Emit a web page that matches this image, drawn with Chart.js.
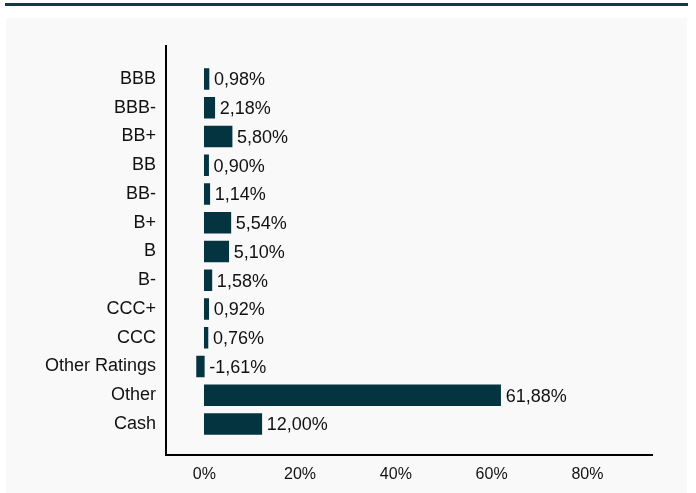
<!DOCTYPE html>
<html><head><meta charset="utf-8">
<script src="https://cdn.jsdelivr.net/npm/chart.js@4"></script>
<style>html,body{margin:0;padding:0;background:#fff}#wrap{width:696px;height:493px}</style>
</head><body><div id="wrap"><canvas id="c" width="696" height="493"></canvas></div>
<script>
const categories = ["BBB","BBB-","BB+","BB","BB-","B+","B","B-","CCC+","CCC","Other Ratings","Other","Cash"];
const values = [0.98,2.18,5.80,0.90,1.14,5.54,5.10,1.58,0.92,0.76,-1.61,61.88,12.00];
const xTicks = [0,20,40,60,80];
const BAR = "#04343f";
const FONT = "'Liberation Sans', Arial, sans-serif";

const bgPlugin = {
  id:"bg",
  beforeDraw(chart){
    const ctx = chart.ctx;
    ctx.save();
    ctx.fillStyle="#fff"; ctx.fillRect(0,0,696,493);
    ctx.fillStyle="#f9f9f9"; ctx.fillRect(6,18,681,475);
    ctx.fillStyle="#0d3c47"; ctx.fillRect(5,3,683,3);
    ctx.restore();
  },
  afterDatasetsDraw(chart){
    const ctx = chart.ctx, a = chart.chartArea, xs = chart.scales.x;
    ctx.save();
    ctx.strokeStyle="#000"; ctx.lineWidth=2;
    ctx.beginPath();
    ctx.moveTo(a.left, 45); ctx.lineTo(a.left, 456);
    ctx.moveTo(a.left-1, 455); ctx.lineTo(653, 455);
    ctx.stroke();
    const meta = chart.getDatasetMeta(0);
    ctx.font = "18px " + FONT;
    ctx.fillStyle="#111"; ctx.textBaseline="middle"; ctx.textAlign="left";
    const zero = xs.getPixelForValue(0);
    meta.data.forEach((bar,i)=>{
      const v = values[i];
      const txt = v.toFixed(2).replace(".",",")+"%";
      const x = Math.max(bar.x, zero)+5;
      ctx.fillText(txt, x, bar.y+1.5);
    });
    ctx.restore();
  }
};

new Chart(document.getElementById("c"),{
  type:"bar",
  data:{labels:categories,datasets:[{data:values,backgroundColor:BAR,barThickness:21}]},
  plugins:[bgPlugin],
  options:{
    indexAxis:"y",responsive:false,animation:false,
    layout:{padding:{top:64.6,right:43,left:0,bottom:0}},
    plugins:{legend:{display:false},tooltip:{enabled:false}},
    scales:{
      x:{min:-8,max:93.7,
        afterBuildTicks(s){s.ticks = xTicks.map(v=>({value:v}));},
        afterFit(s){s.height = 493-438.4;},
        grid:{display:false,drawTicks:false},border:{display:false},
        ticks:{padding:27,color:"#111",font:{family:FONT,size:16},callback:v=>v+"%"}},
      y:{
        afterFit(s){s.width = 166;},
        grid:{display:false,drawTicks:false},border:{display:false},
        ticks:{padding:10,color:"#111",font:{family:FONT,size:18}}}
    }
  }
});
</script></body></html>
